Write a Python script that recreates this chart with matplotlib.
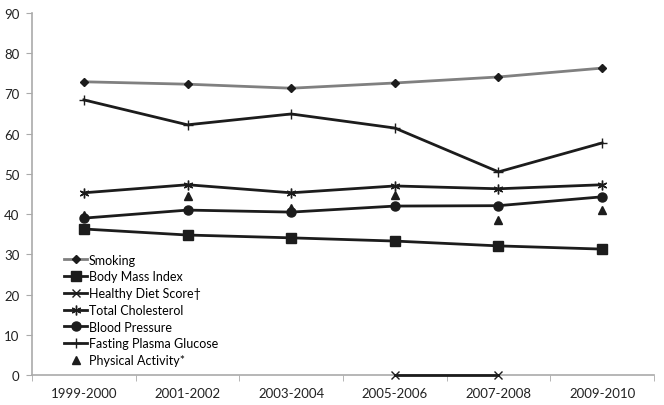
import matplotlib.pyplot as plt
import numpy as np

# Данные
periods = ["1999-2000", "2001-2002", "2003-2004", "2005-2006", "2007-2008", "2009-2010"]
smoking = [72.9, 72.3, 71.3, 72.6, 74.1, 76.3]
bmi = [36.3, 34.8, 34.1, 33.3, 32.1, 31.3]
healthy_diet = [np.nan, np.nan, np.nan, 0, 0, np.nan]
cholesterol = [45.3, 47.3, 45.3, 47.0, 46.3, 47.3]
blood_pressure = [39.0, 41.0, 40.5, 42.0, 42.1, 44.3]
glucose = [68.4, 62.2, 64.9, 61.4, 50.5, 57.7]
physical_activity = [39.8, 44.6, 41.5, 44.8, 38.6, 41.0]

plt.rcParams['font.family'] = ['Lato', 'DejaVu Sans']

fig = plt.figure(figsize=(6.64, 4.06), dpi=100)
ax = fig.add_axes([32 / 664, 30 / 406, 622 / 664, 362 / 406])
x = np.arange(len(periods))
dark = "#1c1c1c"

ax.plot(x, smoking, color="#808080", lw=2, marker="D", ms=4.5, mfc=dark, mec=dark, label="Smoking")
ax.plot(x, bmi, color=dark, lw=2, marker="s", ms=6.5, mfc=dark, mec=dark, label="Body Mass Index")
ax.plot(x, healthy_diet, color=dark, lw=2, marker="x", ms=6, mew=1, clip_on=False, zorder=5,
        label="Healthy Diet Score†")
ax.plot(x, cholesterol, color=dark, lw=2, marker=(6, 2, 0), ms=7, mew=1, label="Total Cholesterol")
ax.plot(x, blood_pressure, color=dark, lw=2, marker="o", ms=6.5, mfc=dark, mec=dark, label="Blood Pressure")
ax.plot(x, glucose, color=dark, lw=2, marker="+", ms=7, mew=1, label="Fasting Plasma Glucose")
ax.plot(x, physical_activity, ls="none", marker="^", ms=5.5, color=dark, label="Physical Activity*")

ax.set_xlim(-0.5, len(periods) - 0.5)
ax.set_ylim(0, 90)
ax.set_yticks(range(0, 91, 10))
ax.set_xticks(x)
ax.set_xticklabels(periods)
ax.set_xticks(np.arange(-0.5, len(periods), 1), minor=True)
ax.tick_params(axis="x", which="major", length=0, labelsize=9.5, pad=9, colors="#222222")
ax.tick_params(axis="x", which="minor", length=4, color="#aaaaaa")
ax.tick_params(axis="y", length=4, color="#aaaaaa", labelsize=9.5, labelcolor="#222222", pad=5)

for side in ["top", "right"]:
    ax.spines[side].set_visible(False)
for side in ["left", "bottom"]:
    ax.spines[side].set_color("#aaaaaa")
    ax.spines[side].set_linewidth(1.2)
ax.spines["bottom"].set_zorder(0)

ax.legend(loc="lower left", bbox_to_anchor=(0.038, 0.0), frameon=False, fontsize=9,
          handlelength=1.8, handletextpad=0.15, labelspacing=0.38, borderpad=0.2)

fig.savefig("out.png", dpi=100)
